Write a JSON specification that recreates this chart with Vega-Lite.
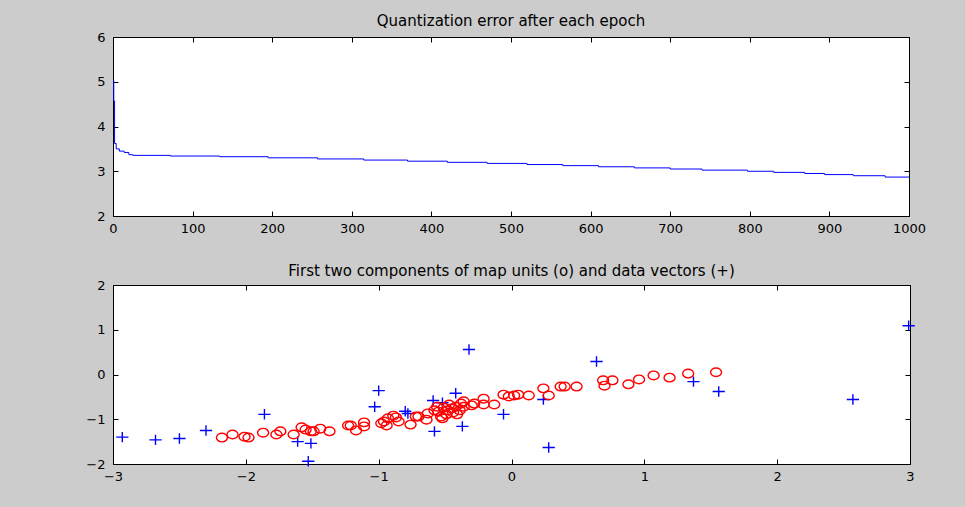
{
  "$schema": "https://vega.github.io/schema/vega-lite/v6.json",
  "background": "#cccccc",
  "padding": {"left": 85, "top": 14, "right": 41, "bottom": 24},
  "bounds": "flush",
  "spacing": 69,
  "config": {
    "view": {"fill": "white", "stroke": null},
    "font": "DejaVu Sans",
    "axis": {
      "domainColor": "black", "domainWidth": 1,
      "tickColor": "black", "tickWidth": 1, "tickSize": -5,
      "labelColor": "black", "labelFont": "DejaVu Sans", "labelFontSize": 13,
      "labelFlush": false, "labelOverlap": false, "labelBound": false,
      "grid": false
    },
    "title": {"font": "DejaVu Sans", "fontSize": 15, "fontWeight": "normal", "color": "black", "anchor": "middle"}
  },
  "datasets": {
    "qerror": [
      {"epoch": 0, "qe": 5.02},
      {"epoch": 1, "qe": 4.57},
      {"epoch": 2, "qe": 3.62},
      {"epoch": 4, "qe": 3.5},
      {"epoch": 8, "qe": 3.45},
      {"epoch": 14, "qe": 3.42},
      {"epoch": 20, "qe": 3.37},
      {"epoch": 25, "qe": 3.355},
      {"epoch": 72, "qe": 3.34},
      {"epoch": 134, "qe": 3.325},
      {"epoch": 195, "qe": 3.3},
      {"epoch": 257, "qe": 3.275},
      {"epoch": 315, "qe": 3.25},
      {"epoch": 370, "qe": 3.225},
      {"epoch": 420, "qe": 3.2},
      {"epoch": 470, "qe": 3.175},
      {"epoch": 520, "qe": 3.15},
      {"epoch": 565, "qe": 3.125},
      {"epoch": 610, "qe": 3.1},
      {"epoch": 655, "qe": 3.075},
      {"epoch": 700, "qe": 3.05},
      {"epoch": 740, "qe": 3.025},
      {"epoch": 797, "qe": 3.0},
      {"epoch": 830, "qe": 2.975},
      {"epoch": 869, "qe": 2.95},
      {"epoch": 894, "qe": 2.925},
      {"epoch": 930, "qe": 2.9},
      {"epoch": 970, "qe": 2.87},
      {"epoch": 1000, "qe": 2.87}
    ],
    "components": [
      {"kind": "data", "c1": -2.93, "c2": -1.40},
      {"kind": "data", "c1": -2.68, "c2": -1.46},
      {"kind": "data", "c1": -2.50, "c2": -1.43},
      {"kind": "data", "c1": -2.30, "c2": -1.25},
      {"kind": "data", "c1": -1.86, "c2": -0.89},
      {"kind": "data", "c1": -1.61, "c2": -1.50},
      {"kind": "data", "c1": -1.51, "c2": -1.54},
      {"kind": "data", "c1": -1.53, "c2": -1.94},
      {"kind": "data", "c1": -1.03, "c2": -0.72},
      {"kind": "data", "c1": -1.00, "c2": -0.36},
      {"kind": "data", "c1": -0.80, "c2": -0.82},
      {"kind": "data", "c1": -0.78, "c2": -0.87},
      {"kind": "data", "c1": -0.59, "c2": -0.58},
      {"kind": "data", "c1": -0.52, "c2": -0.63},
      {"kind": "data", "c1": -0.58, "c2": -1.27},
      {"kind": "data", "c1": -0.32, "c2": 0.56},
      {"kind": "data", "c1": -0.42, "c2": -0.42},
      {"kind": "data", "c1": -0.37, "c2": -1.16},
      {"kind": "data", "c1": -0.06, "c2": -0.89},
      {"kind": "data", "c1": 0.24, "c2": -0.56},
      {"kind": "data", "c1": 0.28, "c2": -1.63},
      {"kind": "data", "c1": 0.64, "c2": 0.29},
      {"kind": "data", "c1": 1.37, "c2": -0.16},
      {"kind": "data", "c1": 1.56, "c2": -0.38},
      {"kind": "data", "c1": 2.57, "c2": -0.56},
      {"kind": "data", "c1": 2.99, "c2": 1.09},
      {"kind": "map", "c1": -2.18, "c2": -1.41},
      {"kind": "map", "c1": -2.10, "c2": -1.34},
      {"kind": "map", "c1": -2.01, "c2": -1.39},
      {"kind": "map", "c1": -1.98, "c2": -1.41},
      {"kind": "map", "c1": -1.87, "c2": -1.30},
      {"kind": "map", "c1": -1.77, "c2": -1.34},
      {"kind": "map", "c1": -1.74, "c2": -1.27},
      {"kind": "map", "c1": -1.64, "c2": -1.34},
      {"kind": "map", "c1": -1.58, "c2": -1.18},
      {"kind": "map", "c1": -1.55, "c2": -1.23},
      {"kind": "map", "c1": -1.51, "c2": -1.27},
      {"kind": "map", "c1": -1.49, "c2": -1.27},
      {"kind": "map", "c1": -1.44, "c2": -1.21},
      {"kind": "map", "c1": -1.37, "c2": -1.27},
      {"kind": "map", "c1": -1.23, "c2": -1.14},
      {"kind": "map", "c1": -1.21, "c2": -1.14},
      {"kind": "map", "c1": -1.17, "c2": -1.25},
      {"kind": "map", "c1": -1.11, "c2": -1.07},
      {"kind": "map", "c1": -1.11, "c2": -1.16},
      {"kind": "map", "c1": -0.98, "c2": -1.09},
      {"kind": "map", "c1": -0.96, "c2": -1.05},
      {"kind": "map", "c1": -0.94, "c2": -1.14},
      {"kind": "map", "c1": -0.93, "c2": -0.98},
      {"kind": "map", "c1": -0.89, "c2": -0.92},
      {"kind": "map", "c1": -0.87, "c2": -0.96},
      {"kind": "map", "c1": -0.85, "c2": -1.05},
      {"kind": "map", "c1": -0.76, "c2": -1.12},
      {"kind": "map", "c1": -0.72, "c2": -0.94},
      {"kind": "map", "c1": -0.70, "c2": -0.94},
      {"kind": "map", "c1": -0.64, "c2": -1.01},
      {"kind": "map", "c1": -0.63, "c2": -0.87},
      {"kind": "map", "c1": -0.58, "c2": -0.80},
      {"kind": "map", "c1": -0.56, "c2": -0.72},
      {"kind": "map", "c1": -0.55, "c2": -0.83},
      {"kind": "map", "c1": -0.53, "c2": -0.94},
      {"kind": "map", "c1": -0.52, "c2": -0.98},
      {"kind": "map", "c1": -0.51, "c2": -0.74},
      {"kind": "map", "c1": -0.49, "c2": -0.89},
      {"kind": "map", "c1": -0.48, "c2": -0.80},
      {"kind": "map", "c1": -0.47, "c2": -0.67},
      {"kind": "map", "c1": -0.45, "c2": -0.76},
      {"kind": "map", "c1": -0.44, "c2": -0.85},
      {"kind": "map", "c1": -0.42, "c2": -0.72},
      {"kind": "map", "c1": -0.41, "c2": -0.89},
      {"kind": "map", "c1": -0.39, "c2": -0.80},
      {"kind": "map", "c1": -0.38, "c2": -0.65},
      {"kind": "map", "c1": -0.36, "c2": -0.72},
      {"kind": "map", "c1": -0.36, "c2": -0.60},
      {"kind": "map", "c1": -0.30, "c2": -0.69},
      {"kind": "map", "c1": -0.28, "c2": -0.65},
      {"kind": "map", "c1": -0.21, "c2": -0.54},
      {"kind": "map", "c1": -0.21, "c2": -0.67},
      {"kind": "map", "c1": -0.13, "c2": -0.67},
      {"kind": "map", "c1": -0.06, "c2": -0.45},
      {"kind": "map", "c1": -0.02, "c2": -0.49},
      {"kind": "map", "c1": 0.02, "c2": -0.47},
      {"kind": "map", "c1": 0.05, "c2": -0.45},
      {"kind": "map", "c1": 0.13, "c2": -0.47},
      {"kind": "map", "c1": 0.24, "c2": -0.31},
      {"kind": "map", "c1": 0.28, "c2": -0.47},
      {"kind": "map", "c1": 0.37, "c2": -0.27},
      {"kind": "map", "c1": 0.40, "c2": -0.27},
      {"kind": "map", "c1": 0.49, "c2": -0.27},
      {"kind": "map", "c1": 0.69, "c2": -0.13},
      {"kind": "map", "c1": 0.70, "c2": -0.25},
      {"kind": "map", "c1": 0.76, "c2": -0.13},
      {"kind": "map", "c1": 0.88, "c2": -0.22},
      {"kind": "map", "c1": 0.96, "c2": -0.11},
      {"kind": "map", "c1": 1.07, "c2": -0.02},
      {"kind": "map", "c1": 1.19, "c2": -0.07},
      {"kind": "map", "c1": 1.33, "c2": 0.02},
      {"kind": "map", "c1": 1.54, "c2": 0.05}
    ]
  },
  "vconcat": [
    {
      "width": 796,
      "height": 179,
      "title": {"text": "Quantization error after each epoch", "offset": 2},
      "data": {"name": "qerror"},
      "layer": [
        {
          "mark": {"type": "line", "color": "#0000ff", "strokeWidth": 1, "interpolate": "step-after"},
          "encoding": {
            "x": {"field": "epoch", "type": "quantitative", "title": null,
                  "scale": {"domain": [0, 1000], "nice": false},
                  "axis": {"orient": "bottom", "format": "d", "values": [0, 100, 200, 300, 400, 500, 600, 700, 800, 900, 1000], "labelPadding": 11}},
            "y": {"field": "qe", "type": "quantitative", "title": null,
                  "scale": {"domain": [2, 6], "nice": false, "zero": false},
                  "axis": {"orient": "left", "values": [2, 3, 4, 5, 6], "labelPadding": 13}}
          }
        },
        {
          "mark": {"type": "line", "opacity": 0},
          "encoding": {
            "x": {"field": "epoch", "type": "quantitative", "title": null,
                  "axis": {"orient": "top", "labels": false, "values": [0, 100, 200, 300, 400, 500, 600, 700, 800, 900, 1000]}},
            "y": {"field": "qe", "type": "quantitative", "title": null,
                  "axis": {"orient": "right", "labels": false, "values": [2, 3, 4, 5, 6]}}
          }
        }
      ],
      "resolve": {"axis": {"x": "independent", "y": "independent"}}
    },
    {
      "width": 797,
      "height": 179,
      "title": {"text": "First two components of map units (o) and data vectors (+)", "offset": 0},
      "data": {"name": "components"},
      "layer": [
        {
          "mark": {"type": "point", "filled": false, "strokeWidth": 1.4, "opacity": 1},
          "encoding": {
            "x": {"field": "c1", "type": "quantitative", "title": null,
                  "scale": {"domain": [-3, 3], "nice": false},
                  "axis": {"orient": "bottom", "values": [-3, -2, -1, 0, 1, 2, 3], "labelPadding": 11}},
            "y": {"field": "c2", "type": "quantitative", "title": null,
                  "scale": {"domain": [-2, 2], "nice": false, "zero": false},
                  "axis": {"orient": "left", "values": [-2, -1, 0, 1, 2], "labelPadding": 13}},
            "shape": {"field": "kind", "type": "nominal", "legend": null,
                      "scale": {"domain": ["map", "data"], "range": ["M-1,0A1,0.78 0 1,0 1,0A1,0.78 0 1,0 -1,0Z", "M-1,0H1M0,-0.85V0.85"]}},
            "size": {"field": "kind", "type": "nominal", "legend": null,
                     "scale": {"domain": ["map", "data"], "range": [121, 150]}},
            "color": {"field": "kind", "type": "nominal", "legend": null,
                      "scale": {"domain": ["map", "data"], "range": ["#ff0000", "#0000ff"]}}
          }
        },
        {
          "mark": {"type": "point", "opacity": 0},
          "encoding": {
            "x": {"field": "c1", "type": "quantitative", "title": null,
                  "axis": {"orient": "top", "labels": false, "values": [-3, -2, -1, 0, 1, 2, 3]}},
            "y": {"field": "c2", "type": "quantitative", "title": null,
                  "axis": {"orient": "right", "labels": false, "values": [-2, -1, 0, 1, 2]}}
          }
        }
      ],
      "resolve": {"axis": {"x": "independent", "y": "independent"}}
    }
  ]
}
